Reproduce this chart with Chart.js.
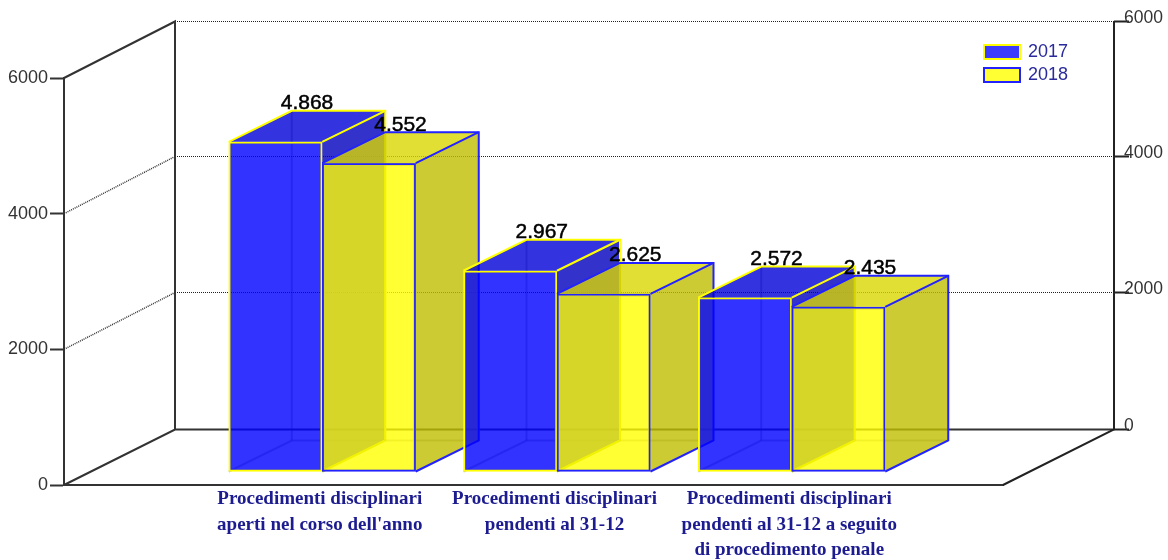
<!DOCTYPE html>
<html>
<head>
<meta charset="utf-8">
<title>Procedimenti disciplinari</title>
<script src="https://cdn.jsdelivr.net/npm/chart.js@4"></script>
<style>
    html, body { margin: 0; background: #fff; }
    canvas { display: block; }
</style>
</head>
<body>
<canvas id="disciplinaryChart" width="1168" height="560"></canvas>
<script>
// Chart data
const categories = [
    ['Procedimenti disciplinari', "aperti nel corso dell'anno"],
    ['Procedimenti disciplinari', 'pendenti al 31-12'],
    ['Procedimenti disciplinari', 'pendenti al 31-12 a seguito', 'di procedimento penale']
];
const seriesNames = ['2017', '2018'];
const values2017 = [4868, 2967, 2572];
const values2018 = [4552, 2625, 2435];

// Box look, one entry per series
const seriesStyles = [
    { front: 'rgba(0,0,255,0.8)', side: 'rgba(0,0,190,0.8)', top: 'rgba(0,0,215,0.8)', edge: '#ffff00', swatch: '#3c3cff' },
    { front: 'rgba(255,255,0,0.8)', side: 'rgba(192,190,0,0.8)', top: 'rgba(218,215,0,0.8)', edge: '#2222ff', swatch: '#ffff33' }
];

const FONT = '"Liberation Sans", Arial, sans-serif';
const WALL = { dx: 111, dy: -56.5 }; // front plane -> back wall
const PLANE = { dx: 23.5, dy: -13 }; // front plane -> front of the boxes
const DEPTH = { dx: 63, dy: -31 };   // box depth

function line(ctx, points, color, width, dash) {
    ctx.save();
    ctx.strokeStyle = color;
    ctx.lineWidth = width;
    ctx.setLineDash(dash || []);
    ctx.beginPath();
    points.forEach((p, i) => i ? ctx.lineTo(p[0], p[1]) : ctx.moveTo(p[0], p[1]));
    ctx.stroke();
    ctx.restore();
}

function face(ctx, points, fill) {
    ctx.fillStyle = fill;
    ctx.beginPath();
    points.forEach((p, i) => i ? ctx.lineTo(p[0], p[1]) : ctx.moveTo(p[0], p[1]));
    ctx.closePath();
    ctx.fill();
}

function drawWalls(chart) {
    const ctx = chart.ctx;
    const { left, right, bottom, top } = chart.chartArea;
    const y = chart.scales.y;
    const backLeft = left + WALL.dx;
    const backRight = right + WALL.dx;
    const floorY = bottom + WALL.dy + 1;

    y.ticks.forEach(tick => {
        const py = y.getPixelForValue(tick.value);
        // keep the dotted lines on whole pixel rows
        const by = Math.floor(py + WALL.dy - 0.5) + 0.5;
        if (tick.value > 0 && tick.value < 6000) {
            line(ctx, [[left, py], [backLeft, by]], '#333', 1.5, [1, 1]);
        }
        if (tick.value > 0) {
            line(ctx, [[backLeft, by], [backRight, by]], '#222', 1, [1, 1]);
        }
        // right hand ticks and labels
        const ty = tick.value > 0 ? by : floorY;
        line(ctx, [[backRight, ty], [backRight + 15, ty]], '#222', 2);
        ctx.fillStyle = '#333';
        ctx.font = '17.5px ' + FONT;
        ctx.textAlign = 'left';
        ctx.textBaseline = 'middle';
        ctx.fillText(String(tick.value), backRight + 10, ty - 3);
    });

    line(ctx, [[left, top], [backLeft, top + WALL.dy], [backLeft, floorY]], '#333', 2);
    line(ctx, [[left, bottom], [backLeft, floorY], [backRight, floorY]], '#333', 2);
    line(ctx, [[right, bottom], [backRight, floorY], [backRight, top + WALL.dy]], '#222', 2);
}

function drawBox(chart, bar, style) {
    const ctx = chart.ctx;
    const props = bar.getProps(['x', 'y', 'base', 'width'], true);
    const x0 = props.x - props.width / 2 + PLANE.dx;
    const x1 = props.x + props.width / 2 + PLANE.dx;
    const y0 = props.y + PLANE.dy;
    const y1 = props.base + PLANE.dy;
    const d = DEPTH;

    // hidden edges show through the front
    line(ctx, [[x0, y1], [x0 + d.dx, y1 + d.dy], [x1 + d.dx, y1 + d.dy]], 'rgba(40,40,40,0.3)', 2);
    line(ctx, [[x0 + d.dx, y1 + d.dy], [x0 + d.dx, y0 + d.dy]], 'rgba(40,40,40,0.3)', 2);

    ctx.save();
    ctx.translate(PLANE.dx, PLANE.dy);
    bar.draw(ctx);
    ctx.restore();

    face(ctx, [[x1, y0], [x1 + d.dx, y0 + d.dy], [x1 + d.dx, y1 + d.dy], [x1, y1]], style.side);
    face(ctx, [[x0, y0], [x0 + d.dx, y0 + d.dy], [x1 + d.dx, y0 + d.dy], [x1, y0]], style.top);

    line(ctx, [[x0, y0], [x0 + d.dx, y0 + d.dy], [x1 + d.dx, y0 + d.dy], [x1 + d.dx, y1 + d.dy], [x1, y1]], style.edge, 2);
    line(ctx, [[x1, y0], [x1 + d.dx, y0 + d.dy]], style.edge, 2);
}

function drawLegend(chart) {
    const ctx = chart.ctx;
    seriesNames.forEach((name, i) => {
        const top = 45 + i * 23;
        ctx.fillStyle = seriesStyles[i].swatch;
        ctx.fillRect(984, top, 36, 14);
        ctx.strokeStyle = seriesStyles[i].edge;
        ctx.lineWidth = 2;
        ctx.strokeRect(984, top, 36, 14);
        ctx.fillStyle = '#2a2a9c';
        ctx.font = '18px ' + FONT;
        ctx.textAlign = 'left';
        ctx.textBaseline = 'middle';
        ctx.fillText(name, 1028, top + 7);
    });
}

const boxes3d = {
    id: 'boxes3d',
    beforeDatasetsDraw(chart) {
        const ctx = chart.ctx;
        drawWalls(chart);

        // left to right, so each group overlaps the one before it
        const count = chart.data.labels.length;
        for (let i = 0; i < count; i++) {
            chart.data.datasets.forEach((ds, d) => {
                if (ds.data[i] === null) return;
                drawBox(chart, chart.getDatasetMeta(d).data[i], seriesStyles[d]);
            });
        }

        // value labels sit on the back top edge
        chart.data.datasets.forEach((ds, d) => {
            chart.getDatasetMeta(d).data.forEach((bar, i) => {
                if (ds.data[i] === null) return;
                const props = bar.getProps(['x', 'y'], true);
                const text = String(ds.data[i]).replace(/\B(?=(\d{3})+$)/g, '.');
                const tx = props.x + PLANE.dx + DEPTH.dx / 2;
                const ty = props.y + PLANE.dy + DEPTH.dy - 1.5;
                ctx.fillStyle = '#000';
                ctx.strokeStyle = '#000';
                ctx.lineWidth = 0.5;
                ctx.font = '21px ' + FONT;
                ctx.textAlign = 'center';
                ctx.textBaseline = 'alphabetic';
                ctx.fillText(text, tx, ty);
                ctx.strokeText(text, tx, ty);
            });
        });

        drawLegend(chart);
        return false; // boxes already painted above
    }
};

new Chart(document.getElementById('disciplinaryChart'), {
    type: 'bar',
    data: {
        // empty slots at both ends keep the groups away from the side walls
        labels: ['', ...categories, ''],
        datasets: [
            {
                label: seriesNames[0],
                data: [null, ...values2017, null],
                backgroundColor: seriesStyles[0].front,
                borderColor: seriesStyles[0].edge
            },
            {
                label: seriesNames[1],
                data: [null, ...values2018, null],
                backgroundColor: seriesStyles[1].front,
                borderColor: seriesStyles[1].edge
            }
        ]
    },
    options: {
        responsive: false,
        animation: false,
        layout: { padding: { top: 78, right: 165, left: 0, bottom: 0 } },
        datasets: { bar: { barThickness: 93.5, borderWidth: 2, borderSkipped: false } },
        plugins: { legend: { display: false }, tooltip: { enabled: false } },
        scales: {
            x: {
                offset: false,
                afterFit: scale => { scale.height = 75; },
                grid: { drawOnChartArea: false, drawTicks: false },
                border: { color: '#333', width: 2 },
                ticks: {
                    autoSkip: false,
                    maxRotation: 0,
                    padding: 2,
                    labelOffset: 21,
                    color: '#1c1c90',
                    font: { family: '"Liberation Serif", serif', size: 19, weight: 'bold', lineHeight: 1.32 }
                }
            },
            y: {
                min: 0,
                max: 6000,
                afterFit: scale => { scale.width = 64; },
                grid: { drawOnChartArea: false, tickLength: 14, tickColor: '#333', tickWidth: 2 },
                border: { color: '#333', width: 2 },
                ticks: {
                    stepSize: 2000,
                    padding: 2,
                    color: '#333',
                    font: { family: FONT, size: 18 },
                    callback: value => String(value)
                }
            }
        }
    },
    plugins: [boxes3d]
});
</script>
</body>
</html>
